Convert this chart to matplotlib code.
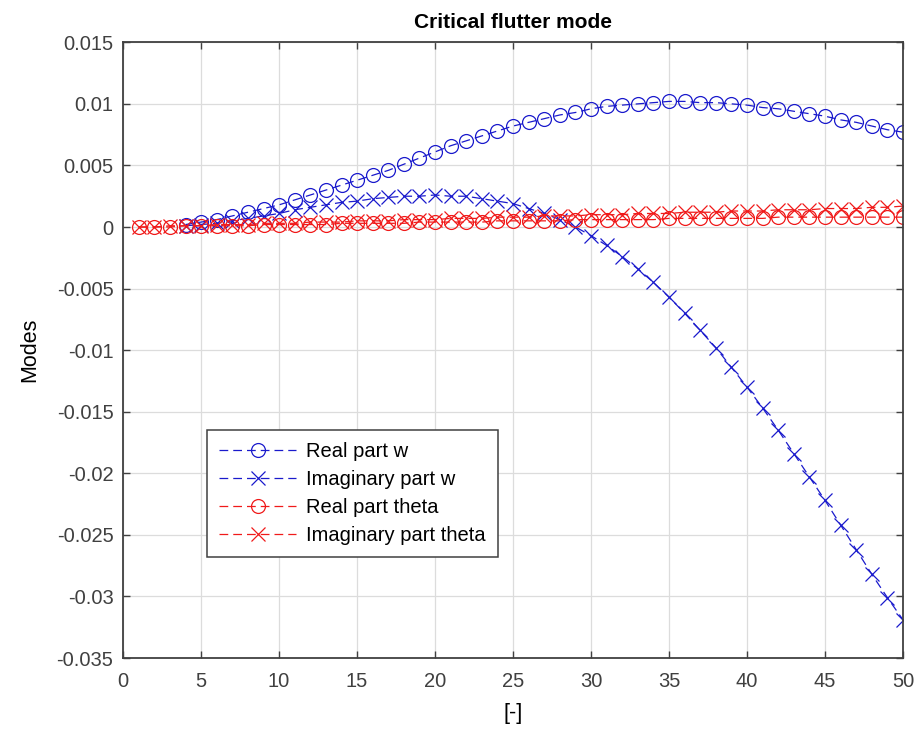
import numpy as np
import matplotlib
matplotlib.use("Agg")
import matplotlib.pyplot as plt

plt.rcParams["font.family"] = ["Liberation Sans", "DejaVu Sans"]

# mode shape components
x_w = list(range(4, 51))
x_theta = list(range(1, 51))

real_w = [
    0.0002, 0.0004, 0.0006, 0.0009, 0.0012, 0.0015, 0.0018,
    0.0022, 0.0026, 0.0030, 0.0034, 0.0038, 0.0042, 0.0046, 0.0051, 0.0056, 0.0061,
    0.0066, 0.0070, 0.0074, 0.0078, 0.0082, 0.0085, 0.0088, 0.0091, 0.0093, 0.0096,
    0.0098, 0.0099, 0.0100, 0.0101, 0.0102, 0.0102, 0.0101, 0.0101, 0.0100, 0.0099,
    0.0097, 0.0096, 0.0094, 0.0092, 0.0090, 0.0087, 0.0085, 0.0082, 0.0079, 0.0077,
]
imag_w = [
    0.0001, 0.0002, 0.0003, 0.0005, 0.0007, 0.0009, 0.0011,
    0.0014, 0.0016, 0.0018, 0.0020, 0.0021, 0.0023, 0.0024, 0.0025, 0.0025, 0.0026,
    0.0025, 0.0025, 0.0023, 0.0021, 0.0019, 0.0015, 0.0011, 0.0006, 0.0000, -0.0007,
    -0.0015, -0.0024, -0.0034, -0.0045, -0.0057, -0.0070, -0.0084, -0.0098, -0.0114, -0.0130,
    -0.0147, -0.0165, -0.0184, -0.0203, -0.0222, -0.0242, -0.0262, -0.0282, -0.0301, -0.0319,
]
real_theta = [
    0.0000, 0.0000, 0.0000, 0.0001, 0.0001, 0.0001, 0.0001, 0.0001, 0.0002, 0.0002,
    0.0002, 0.0002, 0.0002, 0.0003, 0.0003, 0.0003, 0.0003, 0.0003, 0.0004, 0.0004,
    0.0004, 0.0004, 0.0004, 0.0005, 0.0005, 0.0005, 0.0005, 0.0005, 0.0006, 0.0006,
    0.0006, 0.0006, 0.0006, 0.0006, 0.0007, 0.0007, 0.0007, 0.0007, 0.0007, 0.0007,
    0.0007, 0.0008, 0.0008, 0.0008, 0.0008, 0.0008, 0.0008, 0.0008, 0.0008, 0.0008,
]
imag_theta = [
    0.0000, 0.0000, 0.0001, 0.0001, 0.0001, 0.0002, 0.0002, 0.0002, 0.0003, 0.0003,
    0.0003, 0.0004, 0.0004, 0.0004, 0.0005, 0.0005, 0.0005, 0.0006, 0.0006, 0.0006,
    0.0007, 0.0007, 0.0007, 0.0008, 0.0008, 0.0008, 0.0009, 0.0009, 0.0009, 0.0010,
    0.0010, 0.0010, 0.0011, 0.0011, 0.0011, 0.0012, 0.0012, 0.0012, 0.0013, 0.0013,
    0.0013, 0.0014, 0.0014, 0.0014, 0.0015, 0.0015, 0.0015, 0.0016, 0.0016, 0.0017,
]

xticks = np.arange(0, 51, 5)
yticks = [-0.035, -0.03, -0.025, -0.02, -0.015, -0.01, -0.005, 0, 0.005, 0.01, 0.015]
ytick_labels = ["-0.035", "-0.03", "-0.025", "-0.02", "-0.015", "-0.01", "-0.005",
                "0", "0.005", "0.01", "0.015"]

BLUE = "#1a1acc"
RED = "#f01a1a"
AXCOL = "#404040"

fig = plt.figure(figsize=(9.19, 7.42), dpi=100)
ax = fig.add_axes([0.134, 0.1132, 0.8486, 0.8298])

style = dict(linestyle="--", linewidth=0.9, markersize=10, markerfacecolor="none",
             markeredgewidth=0.9, dashes=(7, 4))
ax.plot(x_w, real_w, marker="o", color=BLUE, label="Real part w", **style)
ax.plot(x_w, imag_w, marker="x", color=BLUE, label="Imaginary part w", **style)
ax.plot(x_theta, real_theta, marker="o", color=RED, label="Real part theta", **style)
ax.plot(x_theta, imag_theta, marker="x", color=RED, label="Imaginary part theta", **style)

ax.set_xlim(0, 50)
ax.set_ylim(-0.035, 0.015)
ax.set_xticks(xticks)
ax.set_yticks(yticks)
ax.set_yticklabels(ytick_labels)
ax.grid(True, color="#dcdcdc", linewidth=0.9)
ax.set_axisbelow(True)
ax.tick_params(direction="in", length=5, width=1.0, colors=AXCOL,
               labelsize=14.5, top=True, right=True)
ax.tick_params(axis="x", pad=10)
ax.tick_params(axis="y", pad=7)
for sp in ax.spines.values():
    sp.set_color(AXCOL)
    sp.set_linewidth(1.3)

ax.set_title("Critical flutter mode", fontsize=15, fontweight="bold", pad=10)
ax.set_xlabel("[-]", fontsize=15.5, labelpad=9)
ax.set_ylabel("Modes", fontsize=15.5, labelpad=12)

leg = ax.legend(loc="upper left", bbox_to_anchor=(0.108, 0.371), fontsize=14.5,
                fancybox=False, framealpha=1, edgecolor=AXCOL,
                handlelength=3.8, handletextpad=0.5, borderpad=0.6,
                labelspacing=0.45, borderaxespad=0)
leg.get_frame().set_linewidth(1.1)

fig.savefig("out.png", dpi=100)
